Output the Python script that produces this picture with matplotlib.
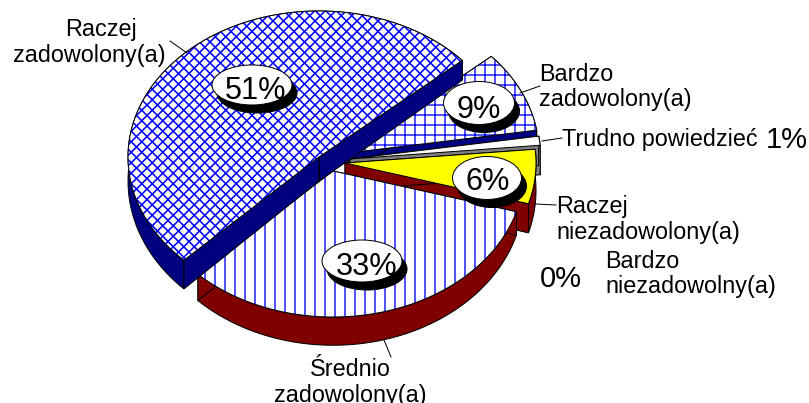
import numpy as np
import matplotlib
matplotlib.use("Agg")
import matplotlib.pyplot as plt
from matplotlib.patches import Polygon, Ellipse

# shares in pie order, counter clockwise
names = ["Raczej zadowolony(a)", "Srednio zadowolony(a)", "Raczej niezadowolony(a)",
         "Bardzo niezadowolny(a)", "Trudno powiedziec", "Bardzo zadowolony(a)"]
shares = [51, 33, 6, 0, 1, 9]

# exploded apex of each slice, pixels
apex_x = [319, 333, 345, 0, 350, 348]
apex_y = [157, 171, 163, 0, 159, 153]
extra_depth = [0, -3, 3, 0, 6, 0]
top_colors = ["white", "white", "#FFFF00", "white", "white", "white"]
side_colors = ["#000080", "#800000", "#800000", "#800000", "#808080", "#000080"]
hatches = [None, "||", None, None, None, "++"]
draw_order = [5, 4, 2, 1, 0]

start_angle = 41.4
rx = 191
ry = 146

# callouts: text, box centre, text x centre, baseline
oval_text = ["51%", "33%", "6%", "9%"]
oval_x = [252, 362, 487, 479]
oval_y = [85, 261, 178, 103]
oval_w = [80, 80, 69, 71]
oval_h = [40, 42, 43, 43]
oval_text_x = [256, 367, 488, 479]
oval_base = [99, 275, 190, 118]

label_text = ["Raczej", "zadowolony(a)", "Bardzo", "zadowolony(a)", "Trudno powiedzieć",
              "Raczej", "niezadowolony(a)", "Bardzo", "niezadowolny(a)",
              "Średnio", "zadowolony(a)"]
label_x = [65, 13, 539, 539, 562, 556, 556, 605, 605, 310, 274]
label_y = [36, 62, 81, 106, 146, 213, 239, 268, 293, 376, 402]

big_text = ["1%", "0%"]
big_x = [766, 540]
big_y = [148, 287]

leaders = [((170, 41), (187, 53)), ((540, 86), (520, 93)), ((562, 138), (542, 141)),
           ((556, 205), (536, 204)), ((391, 357), (384, 340))]

plt.rcParams["font.family"] = ["Liberation Sans", "DejaVu Sans"]
plt.rcParams["hatch.linewidth"] = 0.8

dpi = 120
fig = plt.figure(figsize=(809.01 / dpi, 403.01 / dpi), dpi=dpi)
ax = fig.add_axes([0, 0, 1, 1])
ax.set_xlim(0, 809)
ax.set_ylim(403, 0)
ax.axis("off")


def depth(y, extra):
    return 17 + 0.045 * y + extra


def slice_arc(cx, cy, a0, a1):
    t = np.radians(np.linspace(a0, a1, 80))
    return np.column_stack([cx + rx * np.cos(t), cy - ry * np.sin(t)])


def shift_down(pts, extra):
    out = pts.copy()
    out[:, 1] = out[:, 1] + depth(pts[:, 1], extra)
    return out


def cross_lines(patch, step=10.5, lw=0.95):
    # the big slice has heavier lines than the library hatch allows next to the others
    for k in range(-60, 120):
        for sign in (1, -1):
            x = np.array([0.0, 809.0])
            line, = ax.plot(x, sign * x + k * step, color="#0000FF", lw=lw, zorder=1,
                            solid_capstyle="butt")
            line.set_clip_path(patch)


edges = start_angle + np.concatenate([[0], np.cumsum(shares) * 3.6])

for i in draw_order:
    cx, cy = apex_x[i], apex_y[i]
    arc = slice_arc(cx, cy, edges[i], edges[i + 1])
    centre = np.array([[cx, cy]], dtype=float)
    side = side_colors[i]

    # sides first, the top covers whatever faces backwards
    ax.add_patch(Polygon(np.vstack([arc, shift_down(arc, extra_depth[i])[::-1]]),
                         fc=side, ec="black", lw=0.6))
    for end in (arc[:1], arc[-1:]):
        cut = np.vstack([centre, end])
        ax.add_patch(Polygon(np.vstack([cut, shift_down(cut, extra_depth[i])[::-1]]),
                             fc=side, ec="black", lw=0.6))

    top = np.vstack([centre, arc])
    if hatches[i]:
        ax.add_patch(Polygon(top, fc=top_colors[i], ec="#0000FF", lw=0, hatch=hatches[i]))
        ax.add_patch(Polygon(top, fill=False, ec="black", lw=0.6))
    elif i == 0:
        face = ax.add_patch(Polygon(top, fc=top_colors[i], ec="none"))
        cross_lines(face)
        ax.add_patch(Polygon(top, fill=False, ec="black", lw=0.6))
    else:
        ax.add_patch(Polygon(top, fc=top_colors[i], ec="black", lw=0.6))

for (x0, y0), (x1, y1) in leaders:
    ax.plot([x0, x1], [y0, y1], color="black", lw=0.6, zorder=2)

for k in range(len(oval_text)):
    ax.add_patch(Ellipse((oval_x[k] + 5, oval_y[k] + 8), oval_w[k], oval_h[k], fc="black", ec="black", lw=0.6, zorder=3))
    ax.add_patch(Ellipse((oval_x[k], oval_y[k]), oval_w[k], oval_h[k], fc="white", ec="black", lw=0.6, zorder=3))
    ax.text(oval_text_x[k], oval_base[k], oval_text[k], fontsize=18.4, ha="center", va="baseline", zorder=4)

for k in range(len(label_text)):
    ax.text(label_x[k], label_y[k], label_text[k], fontsize=14, ha="left", va="baseline")

for k in range(len(big_text)):
    ax.text(big_x[k], big_y[k], big_text[k], fontsize=17.5, ha="left", va="baseline")

fig.savefig("out.png", dpi=dpi, facecolor="white")
